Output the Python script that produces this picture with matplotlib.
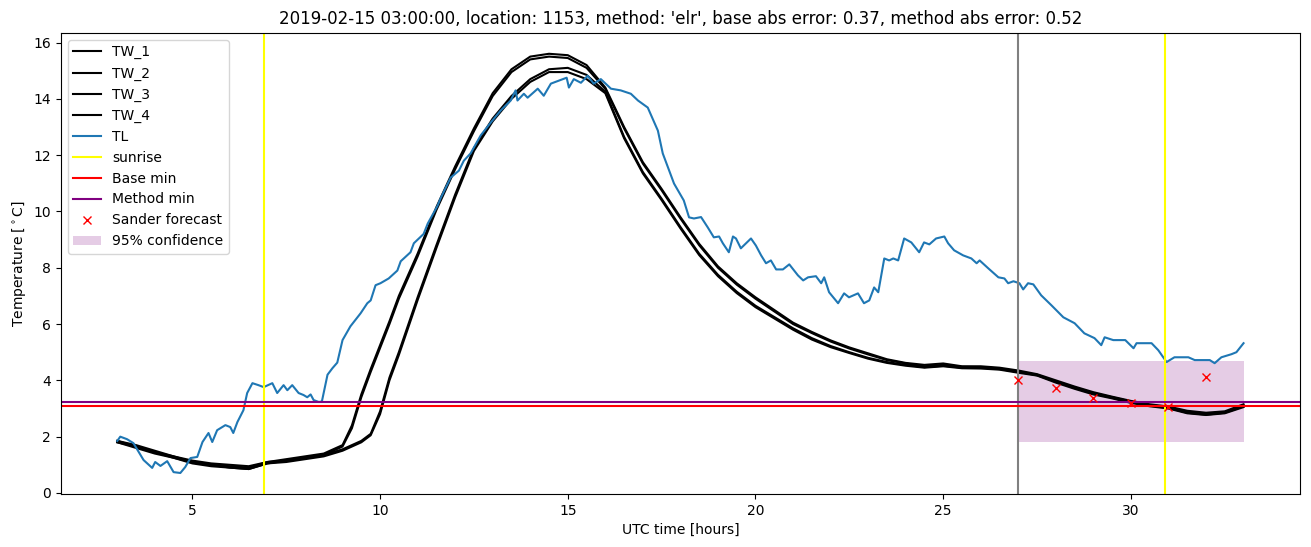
import matplotlib
matplotlib.use("Agg")
import matplotlib.pyplot as plt
import numpy as np

title = "2019-02-15 03:00:00, location: 1153, method: 'elr', base abs error: 0.37, method abs error: 0.52"

tw_time = [3, 3.5, 4, 4.5, 5, 5.5, 6, 6.5, 7, 7.5, 8, 8.5, 9,
           9.25, 9.5, 9.75, 10, 10.25, 10.5,
           11, 11.5, 12, 12.5, 13, 13.5, 14, 14.5, 15, 15.5, 16, 16.5, 17, 17.5, 18, 18.5,
           19, 19.5, 20, 20.5, 21, 21.5, 22, 22.5, 23, 23.5, 24,
           24.5, 25, 25.5, 26, 26.5, 27, 27.5, 28, 28.5, 29, 29.5, 30, 30.5, 31, 31.5, 32, 32.5, 33]

tw_1 = [1.85, 1.7, 1.5, 1.3, 1.15, 1.05, 1.0, 0.95, 1.1, 1.2, 1.3, 1.4, 1.7,
        2.4, 3.5, 4.4, 5.25, 6.1, 7.0,
        8.5, 10.15, 11.6, 12.95, 14.2, 15.05, 15.5, 15.6, 15.55, 15.2, 14.4, 13.0, 11.75, 10.8, 9.8, 8.85,
        8.05, 7.45, 6.95, 6.5, 6.05, 5.72, 5.42, 5.17, 4.96, 4.75, 4.62,
        4.55, 4.6, 4.5, 4.5, 4.45, 4.35, 4.22, 4.0, 3.78, 3.58, 3.42, 3.27, 3.15, 3.07, 2.92, 2.85, 2.9, 3.15]
tw_2 = [1.8, 1.65, 1.45, 1.25, 1.1, 1.0, 0.95, 0.9, 1.1, 1.15, 1.25, 1.35, 1.65,
        2.3, 3.4, 4.3, 5.15, 6.0, 6.9,
        8.4, 10.05, 11.5, 12.85, 14.1, 14.95, 15.4, 15.5, 15.45, 15.1, 14.35, 12.95, 11.7, 10.75, 9.75, 8.8,
        8.0, 7.4, 6.9, 6.45, 6.0, 5.68, 5.38, 5.13, 4.92, 4.72, 4.6,
        4.5, 4.55, 4.48, 4.47, 4.42, 4.3, 4.18, 3.96, 3.75, 3.55, 3.4, 3.25, 3.12, 3.05, 2.88, 2.82, 2.87, 3.1]
tw_3 = [1.85, 1.65, 1.45, 1.3, 1.1, 1.0, 0.9, 0.85, 1.05, 1.15, 1.25, 1.35, 1.55,
        1.7, 1.85, 2.1, 2.9, 4.1, 5.0,
        6.95, 8.8, 10.6, 12.25, 13.3, 14.1, 14.7, 15.05, 15.1, 14.85, 14.25, 12.65, 11.4, 10.45, 9.45, 8.5,
        7.75, 7.15, 6.65, 6.25, 5.85, 5.5, 5.22, 5.0, 4.8, 4.65, 4.55,
        4.47, 4.52, 4.45, 4.45, 4.4, 4.3, 4.2, 3.95, 3.73, 3.53, 3.38, 3.22, 3.1, 3.02, 2.85, 2.78, 2.85, 3.08]
tw_4 = [1.8, 1.6, 1.4, 1.25, 1.05, 0.95, 0.9, 0.85, 1.05, 1.1, 1.2, 1.3, 1.5,
        1.65, 1.8, 2.05, 2.8, 4.0, 4.9,
        6.85, 8.7, 10.5, 12.15, 13.2, 14.0, 14.6, 14.95, 14.95, 14.7, 14.2, 12.6, 11.35, 10.4, 9.4, 8.45,
        7.7, 7.1, 6.6, 6.2, 5.8, 5.45, 5.18, 4.97, 4.77, 4.62, 4.52,
        4.45, 4.5, 4.43, 4.42, 4.38, 4.27, 4.17, 3.92, 3.7, 3.5, 3.36, 3.2, 3.08, 3.0, 2.83, 2.77, 2.83, 3.05]

tl_time = [3.0, 3.08, 3.26, 3.43, 3.7, 3.93, 4.01, 4.15, 4.33, 4.5, 4.68, 4.81, 4.95, 5.13,
           5.27, 5.43, 5.53, 5.66, 5.88, 6.01, 6.09, 6.2, 6.36, 6.46, 6.6, 6.76, 6.9, 7.13,
           7.26, 7.43, 7.53, 7.66, 7.83, 7.96, 8.06, 8.15, 8.23, 8.37, 8.45, 8.6, 8.73, 8.86,
           9.0, 9.21, 9.4, 9.48, 9.66, 9.75, 9.88, 10.01, 10.23, 10.46, 10.55, 10.81, 10.9,
           11.16, 11.27, 11.53, 11.61, 11.88, 12.1, 12.23, 12.41, 12.68, 12.95, 13.21, 13.48,
           13.61, 13.66, 13.83, 13.93, 14.2, 14.36, 14.55, 14.81, 14.97, 15.03, 15.16, 15.35,
           15.53, 15.69, 15.88, 16.15, 16.41, 16.68, 16.87, 17.13, 17.4, 17.53, 17.83, 18.09,
           18.23, 18.36, 18.55, 18.73, 18.89, 19.03, 19.13, 19.29, 19.4, 19.48, 19.61, 19.75,
           19.88, 20.01, 20.15, 20.28, 20.41, 20.55, 20.73, 20.9, 21.13, 21.27, 21.4, 21.61,
           21.75, 21.83, 21.96, 22.2, 22.36, 22.49, 22.73, 22.89, 23.03, 23.16, 23.27, 23.43,
           23.56, 23.67, 23.8, 23.96, 24.15, 24.36, 24.49, 24.63, 24.81, 25.03, 25.13, 25.29,
           25.53, 25.75, 25.89, 25.97, 26.2, 26.47, 26.63, 26.73, 26.87, 27.03, 27.13, 27.26,
           27.4, 27.61, 27.88, 28.2, 28.5, 28.76, 29.03, 29.21, 29.3, 29.53, 29.85, 30.07,
           30.15, 30.55, 30.73, 30.95, 31.16, 31.53, 31.7, 32.1, 32.23, 32.41, 32.68, 32.81, 33.0]
tl_temp = [1.85, 2.0, 1.91, 1.77, 1.17, 0.89, 1.1, 0.96, 1.13, 0.74, 0.71, 0.92, 1.24, 1.28,
           1.81, 2.13, 1.81, 2.23, 2.41, 2.34, 2.13, 2.52, 2.94, 3.55, 3.9, 3.83, 3.76, 3.9,
           3.55, 3.83, 3.65, 3.83, 3.55, 3.48, 3.4, 3.5, 3.3, 3.23, 3.25, 4.2, 4.43, 4.63,
           5.43, 5.92, 6.24, 6.38, 6.74, 6.84, 7.38, 7.45, 7.62, 7.9, 8.23, 8.55, 8.87,
           9.2, 9.57, 10.2, 10.46, 11.2, 11.45, 11.8, 12.06, 12.7, 13.16, 13.58, 13.94,
           14.3, 13.94, 14.18, 14.04, 14.36, 14.11, 14.54, 14.67, 14.75, 14.4, 14.7, 14.57,
           14.82, 14.54, 14.7, 14.36, 14.3, 14.18, 13.94, 13.69, 12.87, 12.06, 10.99, 10.39,
           9.79, 9.75, 9.8, 9.43, 9.08, 9.11, 8.87, 8.55, 9.11, 9.04, 8.69, 8.87,
           9.04, 8.79, 8.44, 8.16, 8.26, 7.94, 7.94, 8.12, 7.73, 7.55, 7.66, 7.7,
           7.45, 7.66, 7.13, 6.74, 7.09, 6.95, 7.09, 6.74, 6.84, 7.3, 7.13, 8.33,
           8.26, 8.33, 8.26, 9.04, 8.9, 8.55, 8.9, 8.83, 9.04, 9.11, 8.87, 8.62,
           8.44, 8.33, 8.16, 8.26, 7.98, 7.66, 7.62, 7.45, 7.52, 7.45, 7.23, 7.45,
           7.41, 7.02, 6.67, 6.24, 6.03, 5.67, 5.5, 5.25, 5.53, 5.43, 5.43, 5.14,
           5.32, 5.32, 5.07, 4.65, 4.82, 4.82, 4.72, 4.72, 4.61, 4.82, 4.93, 5.0, 5.32]

sunrise_times = [6.91, 30.92]
forecast_start = 27.0
base_min = 3.1
method_min = 3.24
sander_time = [27, 28, 29, 30, 31, 32]
sander_temp = [4.0, 3.72, 3.37, 3.19, 3.05, 4.11]
conf_time = [27, 33]
conf_low = [1.8, 1.8]
conf_high = [4.68, 4.68]

fig = plt.figure(figsize=(13.11, 5.47), dpi=100)
ax = fig.add_axes([0.0465, 0.097, 0.945, 0.843])

for name, vals in [("TW_1", tw_1), ("TW_2", tw_2), ("TW_3", tw_3), ("TW_4", tw_4)]:
    ax.plot(tw_time, vals, color="black", label=name)
ax.plot(tl_time, tl_temp, color="#1f77b4", label="TL")
for i, s in enumerate(sunrise_times):
    ax.axvline(s, color="yellow", label="sunrise" if i == 0 else None)
ax.axvline(forecast_start, color="grey")
ax.axhline(base_min, color="red", label="Base min")
ax.axhline(method_min, color="purple", label="Method min")
ax.plot(sander_time, sander_temp, "rx", label="Sander forecast")
ax.fill_between(conf_time, conf_low, conf_high, color="purple", alpha=0.2,
                linewidth=0, label="95% confidence")

ax.set_title(title)
ax.set_xlabel("UTC time [hours]")
ax.set_ylabel("Temperature [$^\\circ$C]")
ax.legend(loc="upper left")

fig.savefig("out.png", dpi=100)
